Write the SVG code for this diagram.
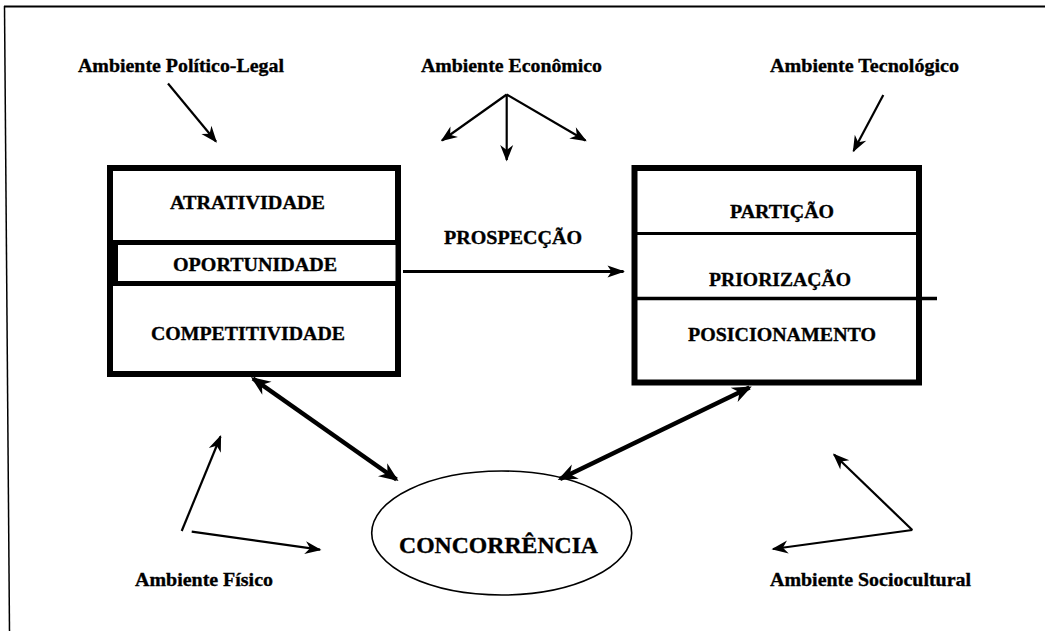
<svg xmlns="http://www.w3.org/2000/svg" width="1045" height="631" viewBox="0 0 1045 631">
  <style>
    .lbl { font-family: "Liberation Serif", "Times New Roman", serif; font-weight: bold; font-size: 19.5px; fill: #000; stroke: #000; stroke-width: 0.35; }
    .big { font-size: 23px; }
    .box { fill: #fff; stroke: #000; stroke-width: 6; }
    .thin { fill: none; stroke: #000; stroke-width: 2.2; marker-end: url(#ah); }
    .thick { fill: none; stroke: #000; stroke-width: 4.5; marker-start: url(#ahT); marker-end: url(#ahT); }
  </style>
  <defs>
    <marker id="ah" markerUnits="userSpaceOnUse" viewBox="-18 -8 22 16" markerWidth="22" markerHeight="16" refX="0" refY="0" orient="auto" overflow="visible">
      <path d="M1.5,0 L-15,-6.5 L-10,0 L-15,6.5 Z" fill="#000"/>
    </marker>
    <marker id="ahT" markerUnits="userSpaceOnUse" viewBox="-22 -9 26 18" markerWidth="26" markerHeight="18" refX="0" refY="0" orient="auto-start-reverse" overflow="visible">
      <path d="M2.5,0 L-17,-8 L-11,0 L-17,8 Z" fill="#000"/>
    </marker>
    <marker id="ahP" markerUnits="userSpaceOnUse" viewBox="-18 -7 22 14" markerWidth="22" markerHeight="14" refX="0" refY="0" orient="auto" overflow="visible">
      <path d="M1.5,0 L-16,-6 L-12,0 L-16,6 Z" fill="#000"/>
    </marker>
  </defs>

  <rect width="1045" height="631" fill="#fff"/>

  <!-- page frame: top rule and left rule -->
  <g id="frame" stroke="#000" fill="none">
    <line x1="4" y1="6.5" x2="1045" y2="6.5" stroke-width="2.2"/>
    <line x1="4.5" y1="6" x2="9.5" y2="631" stroke-width="1.5"/>
  </g>

  <!-- left block: attractiveness / opportunity / competitiveness -->
  <g id="node-analise">
    <rect class="box" x="110" y="168" width="288" height="206"/>
    <rect x="115.5" y="242.5" width="282.5" height="41" fill="#fff" stroke="#000" stroke-width="5"/>
    <text class="lbl" x="170" y="208.5" textLength="155" lengthAdjust="spacingAndGlyphs">ATRATIVIDADE</text>
    <text class="lbl" x="173" y="270.5" textLength="164" lengthAdjust="spacingAndGlyphs">OPORTUNIDADE</text>
    <text class="lbl" x="151" y="339.5" textLength="194" lengthAdjust="spacingAndGlyphs">COMPETITIVIDADE</text>
  </g>

  <!-- right block: partition / prioritisation / positioning -->
  <g id="node-estrategia">
    <rect class="box" x="634.5" y="168" width="284.5" height="214.5"/>
    <line x1="637" y1="233.5" x2="916" y2="233.5" stroke="#000" stroke-width="3"/>
    <line x1="637" y1="298.5" x2="937" y2="298.5" stroke="#000" stroke-width="3.5"/>
    <text class="lbl" x="730" y="217.5" textLength="104" lengthAdjust="spacingAndGlyphs">PARTIÇÃO</text>
    <text class="lbl" x="709" y="285.5" textLength="142" lengthAdjust="spacingAndGlyphs">PRIORIZAÇÃO</text>
    <text class="lbl" x="688" y="340.5" textLength="188" lengthAdjust="spacingAndGlyphs">POSICIONAMENTO</text>
  </g>

  <!-- competition -->
  <g id="node-concorrencia">
    <ellipse cx="501.7" cy="533" rx="130" ry="62" fill="#fff" stroke="#000" stroke-width="1.6"/>
    <text class="lbl big" x="399" y="552.5" textLength="199" lengthAdjust="spacingAndGlyphs">CONCORRÊNCIA</text>
  </g>

  <!-- environment labels -->
  <g id="node-politico"><text class="lbl" x="78" y="72" textLength="206" lengthAdjust="spacingAndGlyphs">Ambiente Político-Legal</text></g>
  <g id="node-economico"><text class="lbl" x="421" y="72" textLength="181" lengthAdjust="spacingAndGlyphs">Ambiente Econômico</text></g>
  <g id="node-tecnologico"><text class="lbl" x="770" y="72" textLength="189" lengthAdjust="spacingAndGlyphs">Ambiente Tecnológico</text></g>
  <g id="node-fisico"><text class="lbl" x="135" y="586" textLength="138" lengthAdjust="spacingAndGlyphs">Ambiente Físico</text></g>
  <g id="node-sociocultural"><text class="lbl" x="770" y="586" textLength="201" lengthAdjust="spacingAndGlyphs">Ambiente Sociocultural</text></g>
  <g id="node-prospeccao"><text class="lbl" x="444" y="243.5" textLength="138" lengthAdjust="spacingAndGlyphs">PROSPECÇÃO</text></g>

  <!-- connectors -->
  <g id="connectors">
    <line class="thin" x1="168" y1="83.5" x2="216" y2="141.5"/>
    <line class="thin" x1="506.7" y1="94.5" x2="442" y2="140.5"/>
    <line class="thin" x1="506.7" y1="94.5" x2="506.7" y2="160"/>
    <line class="thin" x1="506.7" y1="94.5" x2="585.5" y2="140.5"/>
    <line class="thin" x1="883.3" y1="95" x2="853.5" y2="151"/>
    <line x1="403" y1="271.5" x2="623.5" y2="271.5" stroke="#000" stroke-width="3" marker-end="url(#ahP)"/>
    <line class="thick" x1="253" y1="378.5" x2="396.5" y2="479.5"/>
    <line class="thick" x1="749.5" y1="387.5" x2="560" y2="479"/>
    <line class="thin" x1="181.7" y1="531" x2="220.5" y2="436.5"/>
    <line class="thin" x1="191.7" y1="531.7" x2="320" y2="549.7"/>
    <line class="thin" x1="912.3" y1="530" x2="834" y2="454.5"/>
    <line class="thin" x1="912.3" y1="530" x2="773" y2="549"/>
  </g>
</svg>
